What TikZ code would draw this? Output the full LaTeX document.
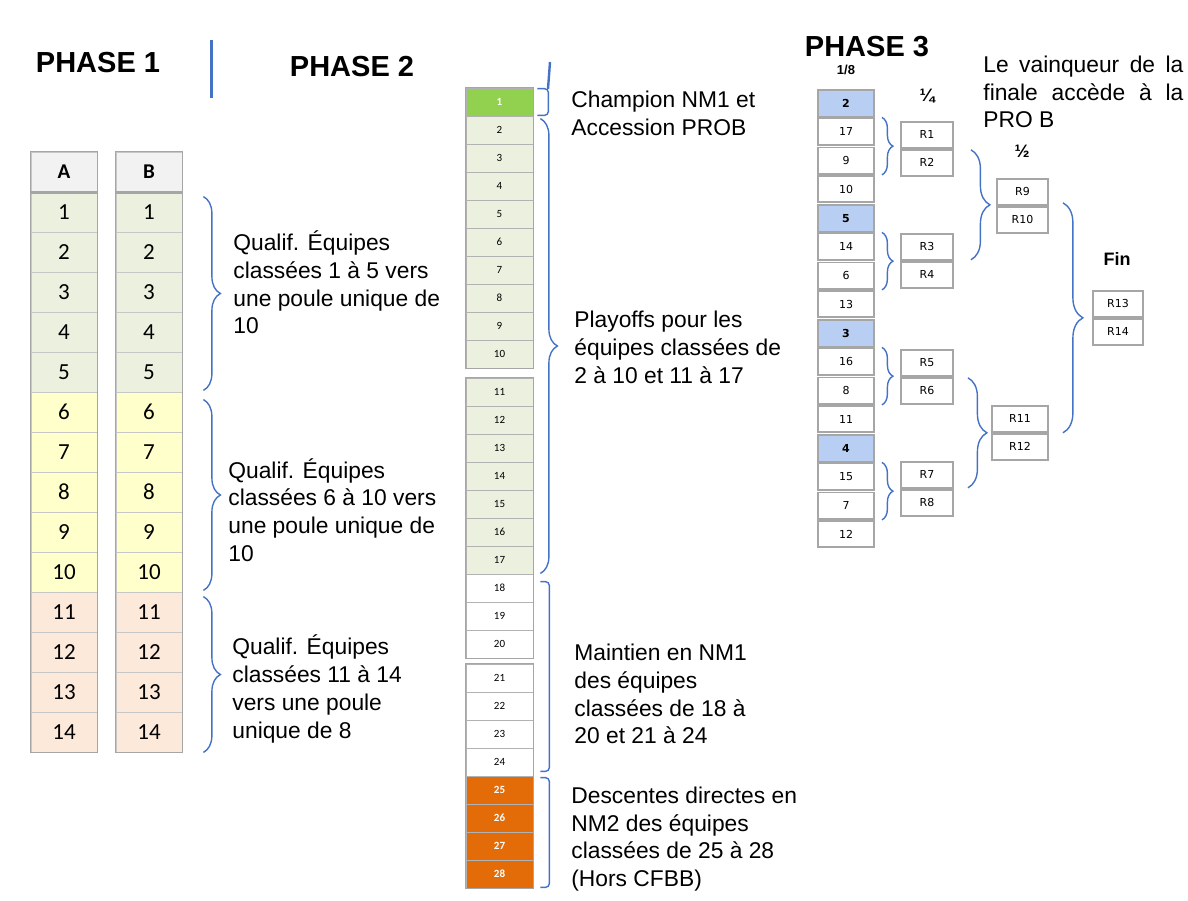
\documentclass[tikz,border=0pt]{standalone}
\usepackage{fontspec}
\setmainfont{Liberation Sans}
\newfontfamily\calib{Carlito}
\newfontfamily\dvs{DejaVu Sans}
\usepackage{tikz}
\usetikzlibrary{decorations.pathreplacing, calc}
\definecolor{figB}{RGB}{68,114,196}
\definecolor{figK}{RGB}{166,166,166}
\definecolor{figL}{RGB}{235,241,222}
\definecolor{figY}{RGB}{255,255,204}
\definecolor{figP}{RGB}{253,233,217}
\definecolor{figH}{RGB}{242,242,242}
\definecolor{figC}{RGB}{146,208,80}
\definecolor{figO}{RGB}{227,108,9}
\definecolor{figS}{RGB}{184,206,242}
\tikzset{ttl/.style={font=\bfseries\fontsize{14.5}{17}\selectfont, inner sep=0pt},
  ptext/.style={align=left, anchor=west, inner sep=0pt, font=\fontsize{11.4}{13.85}\selectfont},
  hcell/.style={draw=black!22, fill=figH, minimum width=33pt, minimum height=20pt, inner sep=0pt,
    font=\calib\bfseries\fontsize{10.5}{12}\selectfont},
  pcell/.style={draw=black!22, minimum width=33pt, minimum height=20pt, inner sep=0pt,
    font=\calib\fontsize{11.5}{12}\selectfont},
  qcell/.style={draw=black!30, minimum width=33.5pt, minimum height=14pt, inner sep=0pt,
    font=\calib\fontsize{5.5}{6}\selectfont},
  sbox/.style={draw=figK, line width=0.9pt, minimum width=28pt, minimum height=13.25pt, inner sep=0pt,
    font=\dvs\fontsize{5.5}{6}\selectfont},
  rbox/.style={draw=figK, line width=0.9pt, minimum width=26pt, minimum height=13pt, inner sep=0pt,
    font=\dvs\fontsize{5.5}{6}\selectfont},
  lbl/.style={font=\bfseries\fontsize{#1}{#1}\selectfont, inner sep=0pt},
  brc/.style={decorate, decoration={brace, amplitude=#1}, draw=figB, line width=0.7pt},
  bkt/.style={draw=figB, line width=0.7pt, rounded corners=2pt}}

\begin{document}
\begin{tikzpicture}[x=0.5pt, y=-0.5pt]
\useasboundingbox (0,0) rectangle (1188,900);
% ===== titles =====
\node[ttl] (ph1) at (98,63) {PHASE 1};
\node[ttl] (ph2) at (352,67) {PHASE 2};
\node[ttl] (ph3) at (867,47) {PHASE 3};
\draw[figB, line width=1.5pt] (211,40) -- (211,98);
% ===== phase 1: groups A and B =====
\node[hcell] (ha) at (64,172) {A};
\node[hcell] (hb) at (149,172) {B};
\foreach \i in {1,...,14}{
  \pgfmathsetmacro{\yy}{172+40*\i}
  \ifnum\i<6 \def\fc{figL}\else\ifnum\i<11 \def\fc{figY}\else\def\fc{figP}\fi\fi
  \node[pcell, fill=\fc] (a\i) at (64,\yy) {\i};
  \node[pcell, fill=\fc] (b\i) at (149,\yy) {\i};
}
\draw[figK, line width=1.2pt] (ha.south west) -- (ha.south east) (hb.south west) -- (hb.south east);
\draw[figK, line width=0.8pt] (ha.north west) rectangle (a14.south east) (hb.north west) rectangle (b14.south east);
\draw[brc=8.5pt] ($(b1.north east)+(21,5)$) -- ($(b5.south east)+(21,-2)$);
\draw[brc=8.5pt] ($(b6.north east)+(21,8)$) -- ($(b10.south east)+(21,-2)$);
\draw[brc=8.5pt] ($(b11.north east)+(21,5)$) -- ($(b14.south east)+(21,0)$);
\node[ptext] (t1) at (233,282.5) {Qualif. Équipes\\classées 1 à 5 vers\\une poule unique de\\10};
\node[ptext] (t2) at (228,510) {Qualif. Équipes\\classées 6 à 10 vers\\une poule unique de\\10};
\node[ptext] (t3) at (232,689) {Qualif. Équipes\\classées 11 à 14\\vers une poule\\unique de 8};
% ===== phase 2: single ranking 1..28 =====
\foreach \i in {1,...,28}{
  \pgfmathsetmacro{\yy}{74+28*\i+10*(\i>10)+6*(\i>20)}
  \def\tc{black}\def\tw{}
  \ifnum\i=1 \def\fc{figC}\def\tc{white}\def\tw{\bfseries}%
  \else\ifnum\i<18 \def\fc{figL}%
  \else\ifnum\i<25 \def\fc{white}%
  \else\def\fc{figO}\def\tc{white}\def\tw{\bfseries}\fi\fi\fi
  \node[qcell, fill=\fc, text=\tc] (q\i) at (499.5,\yy) {\tw\i};
}
\draw[figK, line width=0.8pt] (q1.north west) rectangle (q10.south east)
  (q11.north west) rectangle (q20.south east) (q21.north west) rectangle (q28.south east);
\draw[figB, line width=1.2pt] (550,62) -- (548,89);
\draw[bkt] ($(q1.north east)+(4,1)$) -- ++(11,0) |- ($(q1.south east)+(4,-1)$);
\draw[brc=8.5pt] ($(q2.north east)+(7,3)$) -- ($(q17.south east)+(7,-1)$);
\draw[bkt] ($(q18.north east)+(7,8)$) -- ++(9,0) |- ($(q24.south east)+(7,-5)$);
\draw[bkt] ($(q25.north east)+(7,2)$) -- ++(9,0) |- ($(q28.south east)+(7,-1)$);
\node[ptext] (champ) at (571,113) {Champion NM1 et\\Accession PROB};
\node[ptext] (play) at (574,347.5) {Playoffs pour les\\équipes classées de\\2 à 10 et 11 à 17};
\node[ptext] (maint) at (574,694) {Maintien en NM1\\des équipes\\classées de 18 à\\20 et 21 à 24};
\node[ptext] (desc) at (571,839) {Descentes directes en\\NM2 des équipes\\classées de 25 à 28\\(Hors CFBB)};
% ===== phase 3: bracket =====
\node[lbl=6.5] (l8) at (846,70) {1/8};
\node[lbl=9] (l4) at (927,96) {¼};
\node[lbl=9] (l2) at (1022,151) {½};
\node[lbl=9] (lf) at (1117,259) {Fin};
\foreach \a/\b [count=\k from 0] in {2/17,9/10,5/14,6/13,3/16,8/11,4/15,7/12}{
  \pgfmathsetmacro{\yy}{103.25+57.5*\k}
  \ifodd\k
    \node[sbox] (e\a) at (846,\yy) {\a};
  \else
    \node[sbox, fill=figS, font=\dvs\bfseries\fontsize{5.5}{6}\selectfont] (e\a) at (846,\yy) {\a};
  \fi
  \node[sbox, anchor=north] (e\b) at (e\a.south) {\b};
}
\foreach \yy [count=\k] in {121,233,349,461}{
  \pgfmathtruncatemacro{\m}{2*\k-1}
  \pgfmathtruncatemacro{\n}{2*\k}
  \node[rbox, anchor=north] (r\m) at (927,\yy) {R\m};
  \node[rbox, anchor=north] (r\n) at (r\m.south) {R\n};
}
\node[rbox, anchor=north, minimum width=25.5pt] (r9) at (1022.5,178) {R9};
\node[rbox, anchor=north, minimum width=25.5pt] (r10) at (r9.south) {R10};
\node[rbox, anchor=north, minimum width=28pt] (r11) at (1020,405) {R11};
\node[rbox, anchor=north, minimum width=28pt] (r12) at (r11.south) {R12};
\node[rbox, anchor=north, minimum width=25pt] (r13) at (1118,290) {R13};
\node[rbox, anchor=north, minimum width=25pt] (r14) at (r13.south) {R14};
\draw[brc=5.5pt] ($(e17.north east)+(7,0)$) -- ($(e9.south east)+(7,0)$);
\draw[brc=5.5pt] ($(e14.north east)+(7,0)$) -- ($(e6.south east)+(7,0)$);
\draw[brc=5.5pt] ($(e16.north east)+(7,0)$) -- ($(e8.south east)+(7,0)$);
\draw[brc=5.5pt] ($(e15.north east)+(7,0)$) -- ($(e7.south east)+(7,0)$);
\draw[brc=9.5pt] ($(r2.north east)+(17,1)$) -- ($(r3.south east)+(17,-1)$);
\draw[brc=9.5pt] ($(r6.north east)+(14,1)$) -- ($(r7.south east)+(14,-1)$);
\draw[brc=10pt] ($(r10.north east)+(14,-3)$) -- ($(r11.south east)+(14,0)$);
\node[ptext, anchor=west, text width=100pt, align=justify] (win) at (983,92)
  {Le vainqueur de la\linebreak finale accède à la\linebreak PRO B};
\end{tikzpicture}
\end{document}
